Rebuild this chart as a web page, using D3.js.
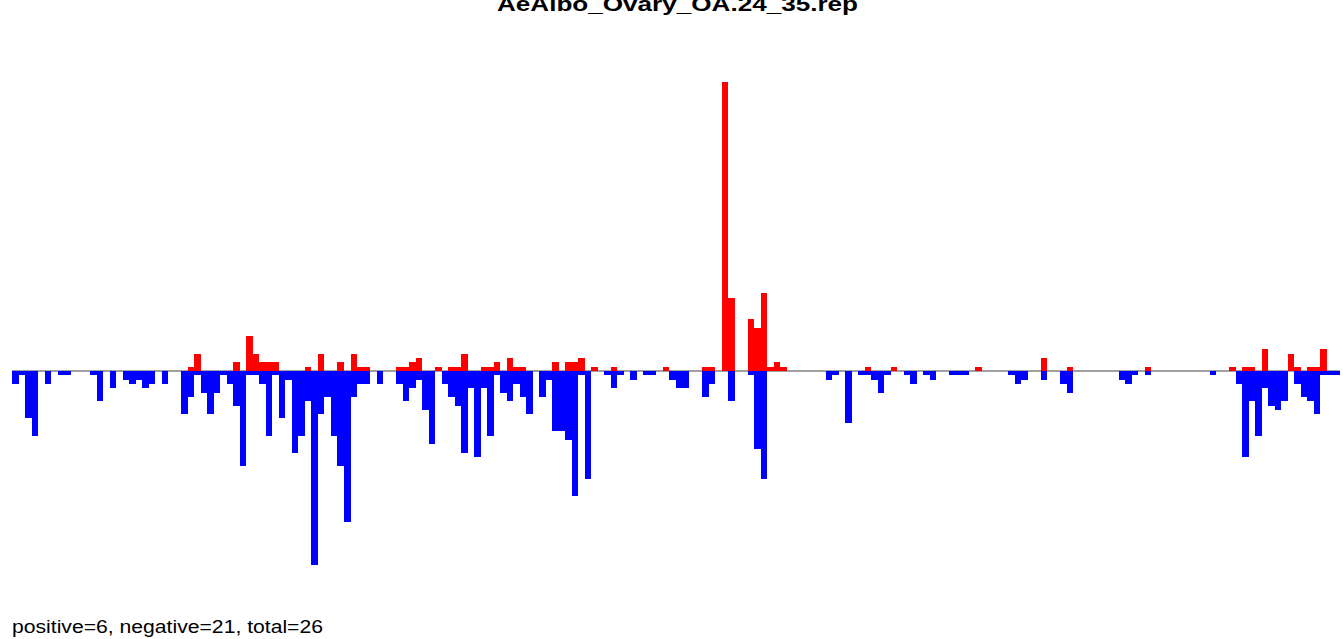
<!DOCTYPE html>
<html>
<head>
<meta charset="utf-8">
<script src="https://cdn.jsdelivr.net/npm/d3@7"></script>
<style>
  html, body { margin: 0; padding: 0; background: #fff; }
  svg { display: block; }
</style>
</head>
<body>
<svg id="chart" width="1343" height="639"></svg>
<script>
// ---- data ----
const title = "AeAlbo_Ovary_OA.24_35.rep";
const summary = "positive=6, negative=21, total=26";

const positive = [
  0,0,0,0,0,0,0,0,0,0,
  0,0,0,0,0,0,0,0,0,0,
  0,0,0,0,0,0,0,1,4,0,
  0,0,0,0,2,0,8,4,2,2,
  2,0,0,0,0,1,0,4,0,0,
  2,0,4,1,1,0,0,0,0,1,
  1,2,3,0,0,1,0,1,1,4,
  0,0,1,1,2,0,3,1,1,0,
  0,0,0,2,0,2,2,3,0,1,
  0,0,1,0,0,0,0,0,0,0,
  1,0,0,0,0,0,1,1,0,67,
  17,0,0,12,10,18,1,2,1,0,
  0,0,0,0,0,0,0,0,0,0,
  0,1,0,0,0,1,0,0,0,0,
  0,0,0,0,0,0,0,0,1,0,
  0,0,0,0,0,0,0,0,3,0,
  0,0,1,0,0,0,0,0,0,0,
  0,0,0,0,1,0,0,0,0,0,
  0,0,0,0,0,0,0,1,0,1,
  1,0,5,0,0,0,4,1,0,1,
  1,5,0,0
];

const negative = [
  3,1,11,15,0,3,0,1,1,0,
  0,0,1,7,0,4,0,2,3,2,
  4,3,0,3,0,0,10,6,1,5,
  10,5,1,3,8,22,1,1,3,15,
  1,11,2,19,15,7,45,10,6,15,
  22,35,6,3,3,0,3,0,0,3,
  7,4,2,9,17,0,3,6,8,19,
  4,20,4,15,1,5,7,3,6,10,
  0,6,2,14,14,16,29,1,25,0,
  0,1,4,1,0,2,0,1,1,0,
  0,2,4,4,0,0,6,3,0,0,
  7,0,0,1,18,25,0,0,0,0,
  0,0,0,0,0,2,1,0,12,0,
  1,1,2,5,1,0,0,1,3,0,
  1,2,0,0,1,1,1,0,0,0,
  0,0,0,1,3,2,0,0,2,0,
  0,3,5,0,0,0,0,0,0,0,
  2,3,1,0,1,0,0,0,0,0,
  0,0,0,0,1,0,0,0,3,20,
  7,15,4,8,9,7,0,3,6,7,
  10,1,1,1
];

const bins = d3.range(1, positive.length + 1);

// ---- layout ----
const W = 1343, H = 639;
const plotLeft = 12, plotRight = 1340;
const plotTop = 81.9, plotBottom = 565.2;

const svg = d3.select("#chart");

const x = d3.scaleBand()
  .domain(bins)
  .range([plotLeft, plotRight])
  .padding(0);

const y = d3.scaleLinear()
  .domain([-d3.max(negative), d3.max(positive)])
  .range([plotBottom, plotTop]);

// baseline
svg.append("line")
  .attr("x1", plotLeft).attr("x2", plotRight)
  .attr("y1", y(0)).attr("y2", y(0))
  .attr("stroke", "#a0a0a0")
  .attr("stroke-width", 2);

const rows = bins.map((b, i) => ({ bin: b, pos: positive[i], neg: negative[i] }));

svg.append("g")
  .attr("shape-rendering", "crispEdges")
  .selectAll("rect.pos")
  .data(rows.filter(d => d.pos > 0))
  .join("rect")
  .attr("class", "pos")
  .attr("x", d => x(d.bin))
  .attr("width", x.bandwidth())
  .attr("y", d => y(d.pos))
  .attr("height", d => y(0) - y(d.pos))
  .attr("fill", "#ff0000");

svg.append("g")
  .attr("shape-rendering", "crispEdges")
  .selectAll("rect.neg")
  .data(rows.filter(d => d.neg > 0))
  .join("rect")
  .attr("class", "neg")
  .attr("x", d => x(d.bin))
  .attr("width", x.bandwidth())
  .attr("y", y(0))
  .attr("height", d => y(-d.neg) - y(0))
  .attr("fill", "#0000ff");

// title
svg.append("text")
  .attr("x", 677.5)
  .attr("y", 11)
  .attr("text-anchor", "middle")
  .attr("font-family", "Liberation Sans, Arial, sans-serif")
  .attr("font-weight", "bold")
  .attr("font-size", 21)
  .attr("textLength", 361)
  .attr("lengthAdjust", "spacingAndGlyphs")
  .attr("fill", "#000")
  .text(title);

// summary text
svg.append("text")
  .attr("x", 12)
  .attr("y", 633)
  .attr("font-family", "Liberation Sans, Arial, sans-serif")
  .attr("font-size", 17.5)
  .attr("textLength", 311)
  .attr("lengthAdjust", "spacingAndGlyphs")
  .attr("fill", "#000")
  .text(summary);
</script>
</body>
</html>
